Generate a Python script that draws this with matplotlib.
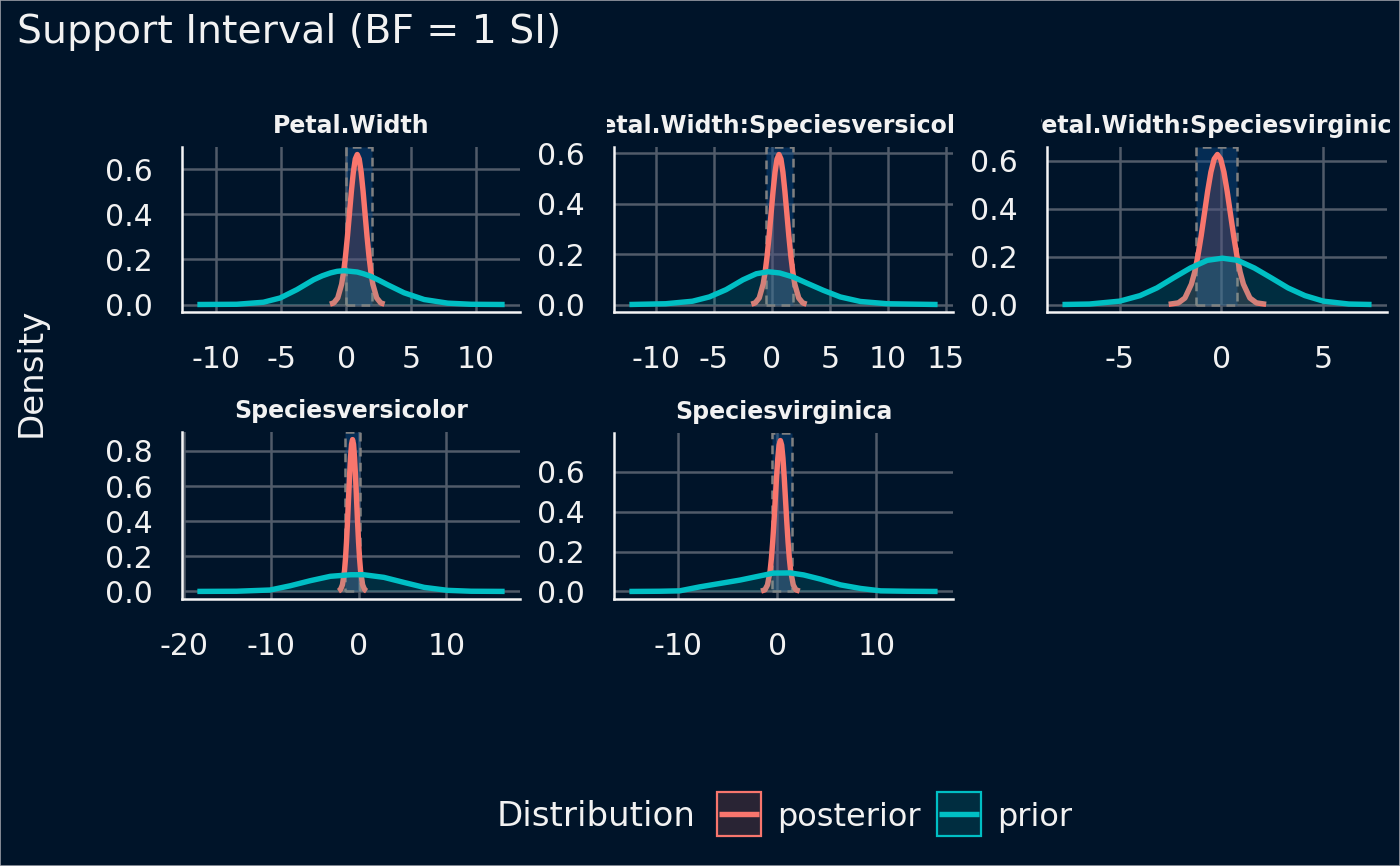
import matplotlib
matplotlib.use("Agg")
import matplotlib.pyplot as plt
from matplotlib.patches import Rectangle
from matplotlib.lines import Line2D
from matplotlib.transforms import Bbox, TransformedBbox

# ---------------- data ----------------
panel_names = ["Petal.Width", "Petal.Width:Speciesversicolor",
               "Petal.Width:Speciesvirginica", "Speciesversicolor",
               "Speciesvirginica"]

post_x = [
    [-1.25, -0.95, -0.65, -0.35, -0.20, -0.05, 0.10, 0.25, 0.40, 0.55, 0.70, 0.85,
     1.00, 1.15, 1.30, 1.45, 1.60, 1.75, 1.90, 2.05, 2.35, 2.65, 2.95],
    [-1.78, -1.44, -1.10, -0.76, -0.59, -0.42, -0.25, -0.08, 0.09, 0.26, 0.43, 0.60,
     0.77, 0.94, 1.11, 1.28, 1.45, 1.62, 1.79, 1.96, 2.30, 2.64, 2.98],
    [-2.60, -2.12, -1.80, -1.48, -1.32, -1.16, -1.00, -0.84, -0.68, -0.52, -0.36, -0.20,
     -0.04, 0.12, 0.28, 0.44, 0.60, 0.76, 0.92, 1.08, 1.40, 1.72, 2.20],
    [-2.33, -2.10, -1.87, -1.64, -1.525, -1.41, -1.295, -1.18, -1.065, -0.95, -0.835, -0.72,
     -0.605, -0.49, -0.375, -0.26, -0.145, -0.03, 0.085, 0.20, 0.43, 0.66, 0.89],
    [-1.65, -1.26, -1.00, -0.74, -0.61, -0.48, -0.35, -0.22, -0.09, 0.04, 0.17, 0.30,
     0.43, 0.56, 0.69, 0.82, 0.95, 1.08, 1.21, 1.34, 1.60, 1.86, 2.25],
]
post_y = [
    [0.0015, 0.0074, 0.029, 0.090, 0.144, 0.216, 0.304, 0.403, 0.502, 0.587, 0.645, 0.665,
     0.645, 0.587, 0.502, 0.403, 0.304, 0.216, 0.144, 0.090, 0.029, 0.0074, 0.0015],
    [0.0013, 0.0066, 0.026, 0.081, 0.129, 0.193, 0.272, 0.361, 0.449, 0.525, 0.577, 0.595,
     0.577, 0.525, 0.449, 0.361, 0.272, 0.193, 0.129, 0.081, 0.026, 0.0066, 0.0013],
    [0.0008, 0.0069, 0.027, 0.085, 0.135, 0.203, 0.286, 0.379, 0.472, 0.552, 0.606, 0.625,
     0.606, 0.552, 0.472, 0.379, 0.286, 0.203, 0.135, 0.085, 0.027, 0.0069, 0.0008],
    [0.0019, 0.0096, 0.038, 0.117, 0.187, 0.281, 0.396, 0.525, 0.653, 0.763, 0.838, 0.865,
     0.838, 0.763, 0.653, 0.525, 0.396, 0.281, 0.187, 0.117, 0.038, 0.0096, 0.0019],
    [0.0017, 0.0084, 0.033, 0.102, 0.164, 0.246, 0.347, 0.459, 0.571, 0.668, 0.734, 0.757,
     0.734, 0.668, 0.571, 0.459, 0.347, 0.246, 0.164, 0.102, 0.033, 0.0084, 0.0017],
]

prior_x = [
    [-11.45, -8.43, -6.37, -5.08, -3.79, -2.5, -1.85, -1.21, -0.7, -0.18, 0.85, 1.35,
     1.88, 2.5, 3.17, 4.45, 6.0, 7.81, 9.61, 12.19],
    [-12.28, -9.16, -6.85, -5.4, -3.95, -2.5, -1.35, -0.34, 0.67, 1.83, 2.99, 4.43,
     5.88, 7.61, 9.93, 14.26],
    [-7.83, -6.5, -5.01, -4.01, -3.18, -2.36, -1.53, -0.70, 0.05, 0.80, 1.62, 2.45,
     3.28, 4.11, 5.02, 6.27, 7.39],
    [-18.46, -13.98, -10.15, -7.85, -5.55, -3.26, -0.95, 0.57, 2.87, 5.17, 7.47,
     10.16, 12.84, 16.67],
    [-14.95, -11.9, -9.88, -7.85, -5.82, -3.79, -1.76, -0.41, 1.29, 2.64, 4.34, 6.37,
     8.40, 10.43, 13.14, 16.18],
]
prior_y = [
    [0.0, 0.001, 0.010, 0.029, 0.066, 0.110, 0.127, 0.140, 0.147, 0.150, 0.144, 0.136,
     0.125, 0.108, 0.088, 0.052, 0.022, 0.006, 0.001, 0.0],
    [0.0, 0.003, 0.013, 0.030, 0.059, 0.098, 0.122, 0.130, 0.125, 0.109, 0.085, 0.056,
     0.030, 0.012, 0.003, 0.0],
    [0.0, 0.002, 0.014, 0.037, 0.069, 0.111, 0.152, 0.184, 0.193, 0.184, 0.152, 0.111,
     0.069, 0.037, 0.014, 0.002, 0.0],
    [0.0, 0.001, 0.008, 0.032, 0.061, 0.086, 0.095, 0.095, 0.080, 0.051, 0.023,
     0.006, 0.001, 0.0],
    [0.0, 0.001, 0.003, 0.023, 0.040, 0.057, 0.078, 0.092, 0.093, 0.083, 0.062, 0.033,
     0.015, 0.003, 0.001, 0.0],
]

si_low = [-0.05, -0.48, -1.24, -1.60, -0.50]
si_high = [2.00, 1.82, 0.76, 0.12, 1.52]

x_ticks = [[-10, -5, 0, 5, 10], [-10, -5, 0, 5, 10, 15], [-5, 0, 5],
           [-20, -10, 0, 10], [-10, 0, 10]]
y_ticks = [[0, 0.2, 0.4, 0.6], [0, 0.2, 0.4, 0.6], [0, 0.2, 0.4, 0.6],
           [0, 0.2, 0.4, 0.6, 0.8], [0, 0.2, 0.4, 0.6]]

title = "Support Interval (BF = 1 SI)"
y_title = "Density"
legend_title = "Distribution"
legend_labels = ["posterior", "prior"]

# ---------------- style ----------------
BG = "#001429"
GRID = "#515b69"
TXT = "#f2f2f2"
C_POST = "#F8766D"
C_PRIOR = "#00BFC4"
W, H = 1400, 866

plt.rcParams["font.family"] = ["DejaVu Sans"]
plt.rcParams["axes.unicode_minus"] = False

fig = plt.figure(figsize=(W / 100, H / 100), dpi=100, facecolor=BG)

# panel boxes in pixels: left, right, top, bottom
boxes = [(182, 520, 147, 312), (614, 953, 147, 312), (1047, 1387, 147, 312),
         (182, 520, 432, 599), (614, 953, 433, 599)]
strip_clip = [(150, 552), (607, 956), (1041, 1390), (150, 552), (607, 956)]


def to_fig(l, r, t, b):
    return [l / W, (H - b) / H, (r - l) / W, (b - t) / H]


def rgba(hexc, a):
    hexc = hexc.lstrip("#")
    return tuple(int(hexc[i:i + 2], 16) / 255 for i in (0, 2, 4)) + (a,)


for i in range(5):
    l, r, t, b = boxes[i]
    ax = fig.add_axes(to_fig(l, r, t, b))
    ax.set_facecolor(BG)
    ax.patch.set_alpha(0)

    ax.plot(post_x[i], post_y[i], color=C_POST, lw=3.9, zorder=2,
            solid_capstyle="butt", solid_joinstyle="round")
    ax.fill_between(post_x[i], 0, post_y[i], color=rgba(C_POST, 0.17), lw=0, zorder=2.5)
    ax.fill_between(prior_x[i], 0, prior_y[i], color=rgba(C_PRIOR, 0.15), lw=0, zorder=3)
    ax.plot(prior_x[i], prior_y[i], color=C_PRIOR, lw=3.9, zorder=4,
            solid_capstyle="butt", solid_joinstyle="round")

    ax.margins(x=0.05, y=0.05)
    ax.autoscale_view()
    xl = ax.get_xlim()
    yl = ax.get_ylim()
    ax.set_xlim(xl)
    ax.set_ylim(yl)

    rect = Rectangle((si_low[i], 0), si_high[i] - si_low[i], yl[1],
                     facecolor=rgba("#0a4a8a", 0.45), edgecolor="#808080",
                     lw=1.8, linestyle=(0, (3.5, 2.5)), zorder=1)
    ax.add_patch(rect)

    ax.set_xticks(x_ticks[i])
    ax.set_xticklabels([("%g" % v) for v in x_ticks[i]])
    ax.set_yticks(y_ticks[i])
    ax.set_yticklabels([("%.1f" % v) for v in y_ticks[i]])
    ax.tick_params(axis="x", length=0, pad=24, labelsize=21.5, labelcolor=TXT)
    ax.tick_params(axis="y", length=0, pad=21, labelsize=21.5, labelcolor=TXT)
    ax.grid(True, color=GRID, lw=1.8, zorder=0.5)
    ax.set_axisbelow(True)
    for s in ("top", "right"):
        ax.spines[s].set_visible(False)
    for s in ("left", "bottom"):
        ax.spines[s].set_color("#f5f5f5")
        ax.spines[s].set_linewidth(1.8)
        ax.spines[s].set_zorder(5)

    # strip title (clipped to strip width)
    cx = (l + r) / 2
    cy = t - 21
    st = fig.text(cx / W, (H - cy) / H, panel_names[i], ha="center", va="center",
                  fontsize=17, fontweight="bold", color=TXT)
    c0, c1 = strip_clip[i]
    bb = Bbox.from_extents(c0 / W, (H - t + 2) / H, c1 / W, (H - t + 45) / H)
    st.set_clip_box(TransformedBbox(bb, fig.transFigure))
    st.set_clip_on(True)

# title & axis title
fig.text(17 / W, (H - 43) / H, title, ha="left", va="baseline", fontsize=28.4, color=TXT)
fig.text(31 / W, (H - 372) / H, y_title, rotation=90, ha="center", va="center",
         fontsize=24.5, color=TXT)

# legend
base = (H - 826) / H
fig.text(497 / W, base, legend_title, ha="left", va="baseline", fontsize=24.5, color=TXT)
key_x = [717, 937]
lab_x = [777, 997]
for kx, lx, col, lab in zip(key_x, lab_x, [C_POST, C_PRIOR], legend_labels):
    fa = 0.17 if col == C_POST else 0.15
    fig.add_artist(Rectangle((kx / W, (H - 836) / H), 44 / W, 44 / H,
                             transform=fig.transFigure, facecolor=rgba(col, fa),
                             edgecolor=col, lw=1.6))
    fig.add_artist(Line2D([(kx + 2) / W, (kx + 42) / W], [(H - 814) / H] * 2,
                          transform=fig.transFigure, color=col, lw=3.9,
                          solid_capstyle="butt"))
    fig.text(lx / W, base, lab, ha="left", va="baseline", fontsize=23, color=TXT)

# outer border
fig.add_artist(Rectangle((0, 0), 1, 1, transform=fig.transFigure, fill=False,
                         edgecolor="#9a9ea6", lw=1.2))

fig.savefig("out.png", dpi=100, facecolor=BG)
